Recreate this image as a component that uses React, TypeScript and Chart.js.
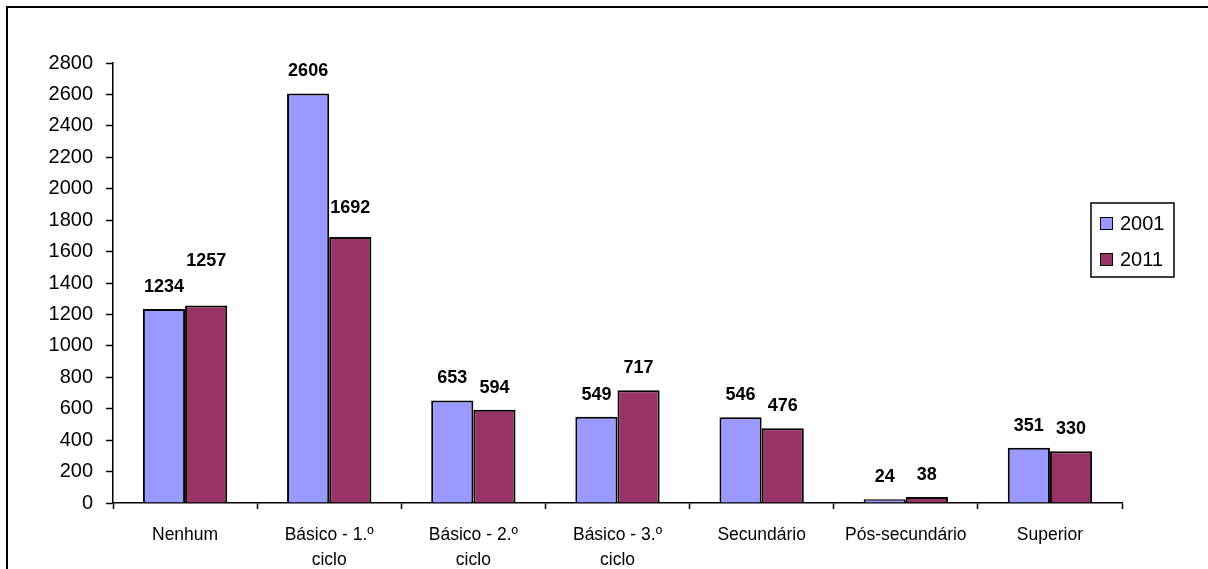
import React, { useEffect, useRef } from "react";
import { Chart, registerables } from "chart.js";

Chart.register(...registerables);

const categories: (string | string[])[] = [
  "Nenhum",
  ["Básico - 1.º", "ciclo"],
  ["Básico - 2.º", "ciclo"],
  ["Básico - 3.º", "ciclo"],
  "Secundário",
  "Pós-secundário",
  "Superior",
];
const seriesNames = ["2001", "2011"];
const values2001 = [1234, 2606, 653, 549, 546, 24, 351];
const values2011 = [1257, 1692, 594, 717, 476, 38, 330];
const yMin = 0;
const yMax = 2800;
const yStep = 200;

const COLORS = ["#9999FF", "#993366"];
const FONT = "'Liberation Sans', Arial, sans-serif";

// extra upward nudge (px) of some value labels, as placed in the original
const LABEL_NUDGE: number[][] = [
  [0, 0, 0, 0, 0, 0, 0],
  [22, 7, 0, 0, 0, 0, 0],
];

const dataLabelPlugin = {
  id: "dataLabels",
  afterDatasetsDraw(chart: any) {
    const ctx = chart.ctx;
    ctx.save();
    ctx.font = `bold 18px ${FONT}`;
    ctx.fillStyle = "#000";
    ctx.textAlign = "center";
    ctx.textBaseline = "middle";
    chart.data.datasets.forEach((ds: any, di: number) => {
      const meta = chart.getDatasetMeta(di);
      meta.data.forEach((el: any, i: number) => {
        const nudge = (LABEL_NUDGE[di] && LABEL_NUDGE[di][i]) || 0;
        ctx.fillText(String(ds.data[i]), el.x, el.y - 22 - nudge);
      });
    });
    ctx.restore();
  },
};

const boxLegendPlugin = {
  id: "boxLegend",
  afterDraw(chart: any) {
    const ctx = chart.ctx;
    const left = 1091;
    const top = 203;
    const w = 83;
    const h = 74;
    ctx.save();
    ctx.fillStyle = "#fff";
    ctx.fillRect(left, top, w, h);
    ctx.strokeStyle = "#000";
    ctx.lineWidth = 1.5;
    ctx.strokeRect(left, top, w, h);
    ctx.font = `20px ${FONT}`;
    ctx.textBaseline = "middle";
    ctx.textAlign = "left";
    chart.data.datasets.forEach((ds: any, i: number) => {
      const cy = top + 20 + i * 36;
      ctx.fillStyle = ds.backgroundColor;
      ctx.fillRect(left + 9, cy - 6, 12, 12);
      ctx.lineWidth = 1;
      ctx.strokeRect(left + 9.5, cy - 5.5, 12, 12);
      ctx.fillStyle = "#000";
      ctx.fillText(ds.label, left + 29, cy + 1);
    });
    ctx.restore();
  },
};

export default function App() {
  const canvasRef = useRef<HTMLCanvasElement | null>(null);

  useEffect(() => {
    const canvas = canvasRef.current;
    if (!canvas) return;
    const chart = new Chart(canvas, {
      type: "bar",
      data: {
        labels: categories,
        datasets: [
          {
            label: seriesNames[0],
            data: values2001,
            backgroundColor: COLORS[0],
            borderColor: "#000",
            borderWidth: 2,
            borderSkipped: "bottom",
          },
          {
            label: seriesNames[1],
            data: values2011,
            backgroundColor: COLORS[1],
            borderColor: "#000",
            borderWidth: 2,
            borderSkipped: "bottom",
          },
        ],
      },
      options: {
        responsive: false,
        animation: false,
        devicePixelRatio: 1,
        layout: { padding: { left: 0, top: 63, right: 86, bottom: 0 } },
        datasets: {
          bar: { categoryPercentage: 0.585, barPercentage: 1 },
        },
        plugins: {
          legend: { display: false },
          tooltip: { enabled: false },
          title: { display: false },
        },
        scales: {
          x: {
            grid: {
              offset: true,
              drawOnChartArea: false,
              drawTicks: true,
              tickLength: 6,
              tickColor: "#000",
              tickWidth: 1.5,
            },
            border: { display: true, color: "#000", width: 1.5 },
            ticks: {
              color: "#000",
              font: { family: FONT, size: 17.5, lineHeight: 1.45 },
              padding: 13,
              maxRotation: 0,
              autoSkip: false,
            },
            afterFit(scale: any) {
              scale.height = 66;
            },
          },
          y: {
            min: yMin,
            max: yMax,
            grid: {
              drawOnChartArea: false,
              drawTicks: true,
              tickLength: 7,
              tickColor: "#000",
              tickWidth: 1.5,
            },
            border: { display: true, color: "#000", width: 1.5 },
            ticks: {
              stepSize: yStep,
              color: "#000",
              font: { family: FONT, size: 20 },
              padding: 13,
              callback: (v: any) => String(v),
            },
            afterFit(scale: any) {
              scale.width = 113;
            },
          },
        },
      },
      plugins: [dataLabelPlugin, boxLegendPlugin],
    });
    return () => chart.destroy();
  }, []);

  return (
    <div
      style={{
        position: "fixed",
        left: 0,
        top: 0,
        width: 1208,
        height: 569,
        overflow: "hidden",
        background: "#fff",
      }}
    >
      <div
        style={{
          position: "absolute",
          left: 6,
          top: 6,
          width: 1260,
          height: 620,
          border: "2px solid #000",
        }}
      />
      <canvas
        ref={canvasRef}
        width={1208}
        height={569}
        style={{ position: "absolute", left: 0, top: 0, width: 1208, height: 569 }}
      />
    </div>
  );
}
